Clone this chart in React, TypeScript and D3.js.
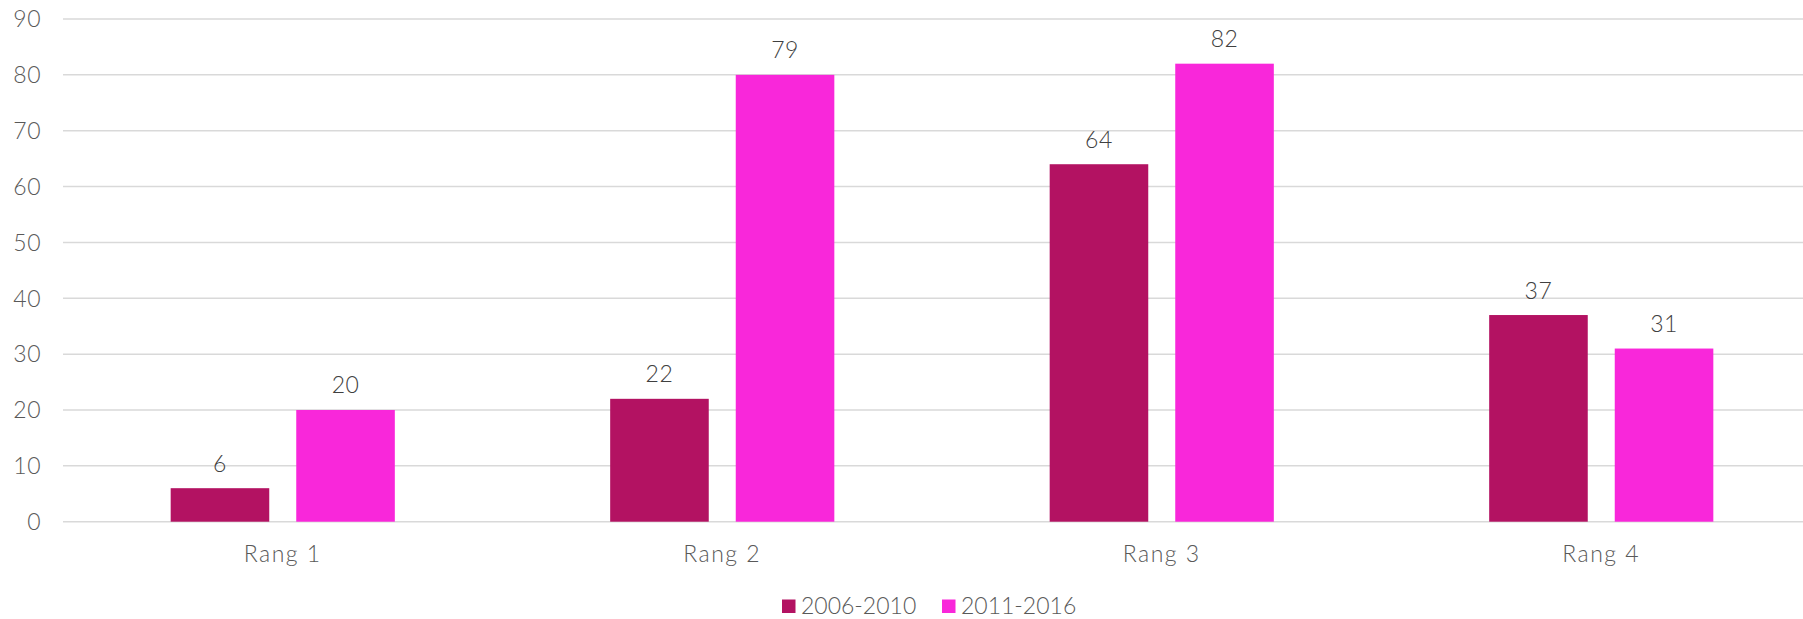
import React from 'react';
import * as d3 from 'd3';

const categories = ['Rang 1', 'Rang 2', 'Rang 3', 'Rang 4'];
const seriesNames = ['2006-2010', '2011-2016'];
const values2006 = [6, 22, 64, 37];
const values2011 = [20, 80, 82, 31];
// labels as printed on the chart (the second bar of Rang 2 is drawn at 80 but labelled 79)
const labels2006 = ['6', '22', '64', '37'];
const labels2011 = ['20', '79', '82', '31'];
const yTicks = [0, 10, 20, 30, 40, 50, 60, 70, 80, 90];
const colors = ['#b31262', '#f927da'];

const W = 1803;
const H = 619;
const font = 'Lato, "Open Sans", sans-serif';

function App() {
  const x0 = d3.scaleBand().domain(categories).range([63, 1821]).paddingInner(0.49).paddingOuter(0.245);
  const x1 = d3.scaleBand().domain(seriesNames).range([0, x0.bandwidth()]).paddingInner(0.215);
  const y = d3.scaleLinear().domain([0, 90]).range([521.7, 19]);

  const series = [
    { name: seriesNames[0], values: values2006, labels: labels2006 },
    { name: seriesNames[1], values: values2011, labels: labels2011 },
  ];

  return (
    <svg width={W} height={H} style={{ position: 'absolute', left: 0, top: 0, background: '#fff' }} fontFamily={font} fontWeight={300}>
      {yTicks.map((t) => (
        <g key={t}>
          <line x1={63} x2={W} y1={y(t)} y2={y(t)} stroke="#d9d9d9" strokeWidth={1.5} />
          <text x={41} y={y(t)} dy="0.36em" textAnchor="end" fontSize={23} fill="#595959" letterSpacing={0.5}>
            {t}
          </text>
        </g>
      ))}
      {series.map((s, si) =>
        categories.map((c, ci) => {
          const bx = (x0(c) ?? 0) + (x1(s.name) ?? 0);
          const bw = x1.bandwidth();
          return (
            <g key={s.name + c}>
              <rect x={bx} y={y(s.values[ci])} width={bw} height={y(0) - y(s.values[ci])} fill={colors[si]} />
              <text x={bx + bw / 2} y={y(s.values[ci]) - 16.5} textAnchor="middle" fontSize={23} fill="#404040" letterSpacing={0.5}>
                {s.labels[ci]}
              </text>
            </g>
          );
        })
      )}
      {categories.map((c) => (
        <text key={c} x={(x0(c) ?? 0) + x0.bandwidth() / 2} y={562} textAnchor="middle" fontSize={23} fill="#595959" letterSpacing={1.5}>
          {c}
        </text>
      ))}
      <g>
        <rect x={782} y={599.5} width={13.5} height={13.5} fill={colors[0]} />
        <text x={801} y={614} fontSize={23} fill="#595959">{seriesNames[0]}</text>
        <rect x={942} y={599.5} width={13.5} height={13.5} fill={colors[1]} />
        <text x={961} y={614} fontSize={23} fill="#595959">{seriesNames[1]}</text>
      </g>
    </svg>
  );
}

export default App;
